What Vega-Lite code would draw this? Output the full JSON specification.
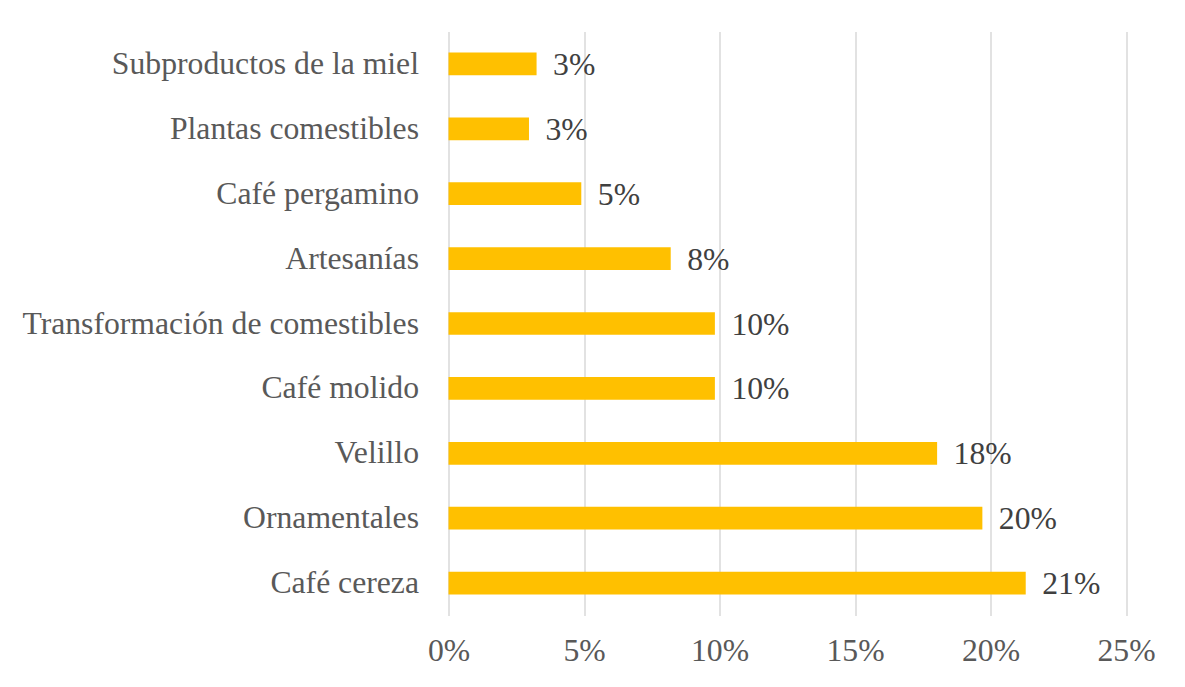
{
  "$schema": "https://vega.github.io/schema/vega-lite/v6.json",
  "width": 677.5,
  "height": 584,
  "autosize": {"type": "none"},
  "padding": {"left": 448.5, "top": 31.5, "right": 59, "bottom": 71.5},
  "background": "white",
  "config": {
    "view": {"stroke": null},
    "font": "Liberation Serif"
  },
  "data": {
    "values": [
      {"producto": "Subproductos de la miel", "valor": 0.0325, "etiqueta": "3%"},
      {"producto": "Plantas comestibles", "valor": 0.0297, "etiqueta": "3%"},
      {"producto": "Café pergamino", "valor": 0.049, "etiqueta": "5%"},
      {"producto": "Artesanías", "valor": 0.082, "etiqueta": "8%"},
      {"producto": "Transformación de comestibles", "valor": 0.0983, "etiqueta": "10%"},
      {"producto": "Café molido", "valor": 0.0983, "etiqueta": "10%"},
      {"producto": "Velillo", "valor": 0.1803, "etiqueta": "18%"},
      {"producto": "Ornamentales", "valor": 0.197, "etiqueta": "20%"},
      {"producto": "Café cereza", "valor": 0.213, "etiqueta": "21%"}
    ]
  },
  "encoding": {
    "y": {
      "field": "producto",
      "type": "nominal",
      "sort": null,
      "scale": {"paddingInner": 0.65, "paddingOuter": 0.325},
      "axis": {
        "title": null,
        "ticks": false,
        "domain": false,
        "labelFont": "Liberation Serif",
        "labelFontSize": 31.7,
        "labelColor": "#595959",
        "labelPadding": 30,
        "labelLimit": 500
      }
    },
    "x": {
      "field": "valor",
      "type": "quantitative",
      "scale": {"domain": [0, 0.25], "nice": false},
      "axis": {
        "title": null,
        "format": ".0%",
        "values": [0, 0.05, 0.1, 0.15, 0.2, 0.25],
        "ticks": false,
        "domain": false,
        "grid": true,
        "gridColor": "#D9D9D9",
        "gridWidth": 1.5,
        "labelFont": "Liberation Serif",
        "labelFontSize": 31.7,
        "labelColor": "#595959",
        "labelPadding": 20,
        "labelFlush": false
      }
    }
  },
  "layer": [
    {"mark": {"type": "bar", "color": "#FFC000"}},
    {
      "mark": {
        "type": "text",
        "align": "left",
        "baseline": "middle",
        "dx": 16.5,
        "dy": 1,
        "font": "Liberation Serif",
        "fontSize": 31.7,
        "color": "#404040"
      },
      "encoding": {"text": {"field": "etiqueta"}}
    }
  ]
}
